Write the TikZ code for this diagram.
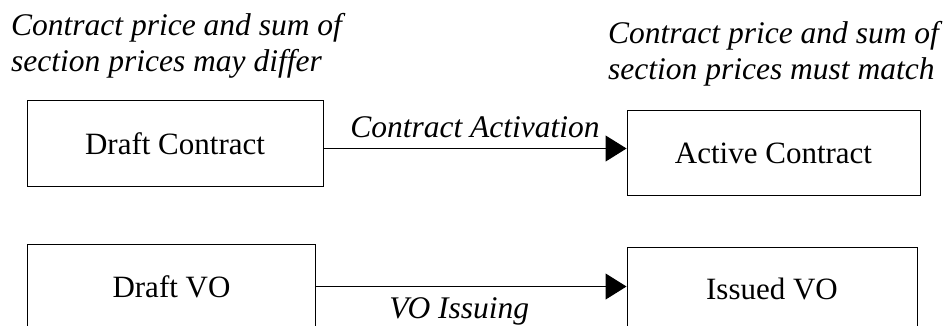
\documentclass[tikz,border=0pt]{standalone}
\usepackage{fontspec}
\setmainfont{Liberation Serif}
\usetikzlibrary{arrows.meta}
\usetikzlibrary{positioning}

\begin{document}
\begin{tikzpicture}[x=1pt,y=-1pt]
	\clip (0,0) rectangle (949,326);
	\begin{scope}[every node/.style={draw, line width=1pt, inner sep=0pt, font=\fontsize{31}{36}\selectfont}]
		\node[minimum width=296pt, minimum height=85pt] (dc) at (175,143.5) {Draft Contract};
		\node[minimum width=293pt, minimum height=84pt] (ac) at (773.5,153) {Active Contract};
		\node[minimum width=288pt, minimum height=85pt] (dv) at (171.5,286.5) {Draft VO};
		\node[minimum width=290pt, minimum height=83pt] (iv) at (772,288.5) {Issued VO};
	\end{scope}

	\begin{scope}[every node/.style={anchor=north west, inner sep=0pt, align=left, font=\itshape\fontsize{31.5}{36.5}\selectfont}]
		\node (differ) at (11,13) {Contract price and sum of\\section prices may differ};
		\node (match) at (608,21) {Contract price and sum of\\section prices must match};
	\end{scope}

	\begin{scope}[>={Triangle[length=21pt,width=26pt]},
	              line width=1pt,
	              every node/.style={font=\itshape\fontsize{31.5}{36.5}\selectfont}]
		\draw[->] ([yshift=-5pt]dc.east) -- ([yshift=-5pt]dc.east -| ac.west)
			node[midway, above=7pt] {Contract Activation};
		\draw[->] (dv.east) -- (dv.east -| iv.west)
			node[midway, below=7pt, xshift=-12pt] {VO Issuing};
	\end{scope}
\end{tikzpicture}
\end{document}
